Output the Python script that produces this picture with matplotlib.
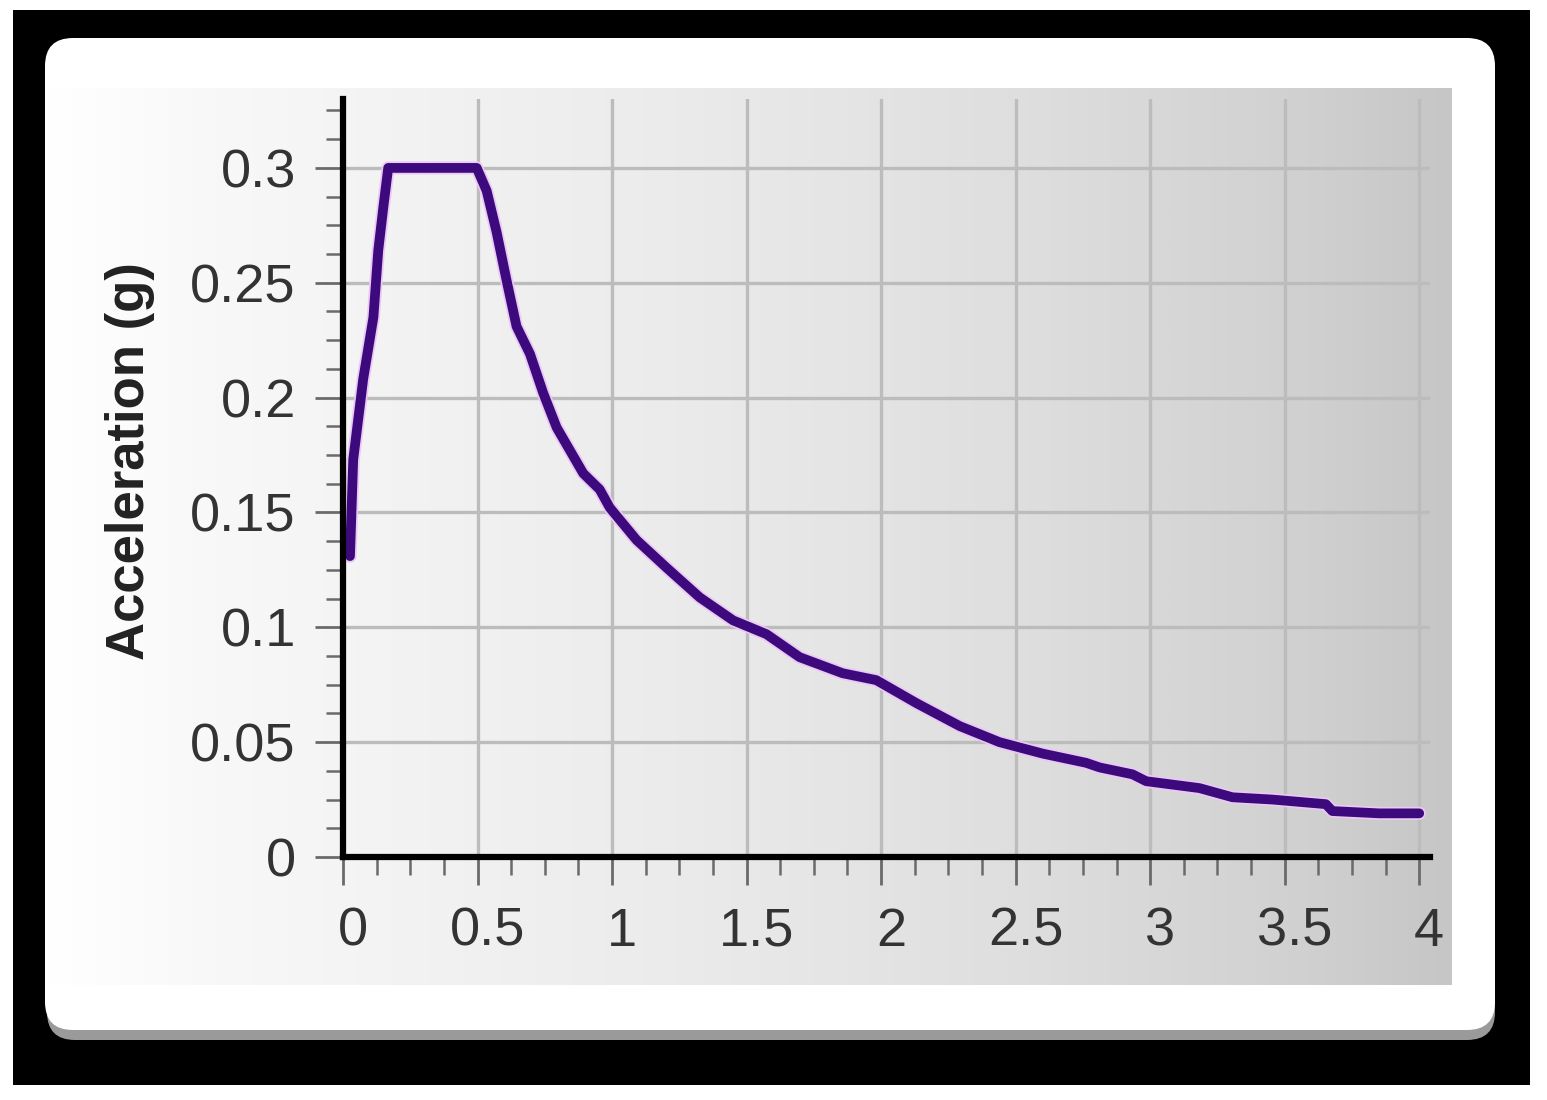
#!/usr/bin/env python3
"""Response spectrum chart: acceleration vs period, on a grey gradient card."""

import matplotlib
matplotlib.use("Agg")
import matplotlib.pyplot as plt
import numpy as np
from matplotlib.patches import Rectangle, FancyBboxPatch
from matplotlib.transforms import IdentityTransform, ScaledTranslation
from matplotlib.ticker import FixedLocator, MultipleLocator
from matplotlib.colors import LinearSegmentedColormap

# Spectrum values
period = [0.026, 0.038, 0.075, 0.113, 0.131, 0.150, 0.168, 0.497, 0.534,
          0.571, 0.608, 0.645, 0.695, 0.744, 0.794, 0.893, 0.954, 0.992,
          1.091, 1.202, 1.326, 1.450, 1.574, 1.697, 1.857, 1.982, 2.131,
          2.292, 2.440, 2.601, 2.762, 2.812, 2.934, 2.985, 3.183, 3.306,
          3.455, 3.653, 3.677, 3.851, 4.000]
accel = [0.131, 0.173, 0.208, 0.235, 0.264, 0.283, 0.300, 0.300, 0.290,
         0.272, 0.251, 0.231, 0.219, 0.202, 0.187, 0.167, 0.160, 0.152,
         0.138, 0.126, 0.113, 0.103, 0.097, 0.087, 0.080, 0.077, 0.067,
         0.057, 0.050, 0.045, 0.041, 0.039, 0.036, 0.033, 0.030, 0.026,
         0.025, 0.023, 0.020, 0.019, 0.019]

xticks = [0, 0.5, 1, 1.5, 2, 2.5, 3, 3.5, 4]
xtick_labels = ["0", "0.5", "1", "1.5", "2", "2.5", "3", "3.5", "4"]
yticks = [0, 0.05, 0.1, 0.15, 0.2, 0.25, 0.3]
ytick_labels = ["0", "0.05", "0.1", "0.15", "0.2", "0.25", "0.3"]
ylabel = "Acceleration (g)"

W, H = 1547, 1100
plt.rcParams["font.family"] = ["Liberation Sans", "DejaVu Sans"]

fig = plt.figure(figsize=(W / 100, H / 100), dpi=100, facecolor="white")


def box(x0, y0, x1, y1):
    """pixel box, top-left origin -> display coords (x, y, w, h)"""
    return x0, H - y1, x1 - x0, y1 - y0


# black frame
x, y, w, h = box(13, 10, 1530, 1085)
fig.patches.append(Rectangle((x, y), w, h, transform=IdentityTransform(),
                             facecolor="black", edgecolor="none", zorder=0))
# soft shadow under the card
x, y, w, h = box(47, 44, 1495, 1040)
fig.patches.append(FancyBboxPatch((x, y), w, h, boxstyle="round,pad=0,rounding_size=28",
                                  transform=IdentityTransform(),
                                  facecolor="#9a9a9a", edgecolor="none", zorder=0.5))
# white card
x, y, w, h = box(45, 38, 1495, 1030)
fig.patches.append(FancyBboxPatch((x, y), w, h, boxstyle="round,pad=0,rounding_size=28",
                                  transform=IdentityTransform(),
                                  facecolor="white", edgecolor="none", zorder=1))

# gradient panel behind the plot
px0, py0, px1, py1 = 45, 88, 1452, 985
bg = fig.add_axes([px0 / W, 1 - py1 / H, (px1 - px0) / W, (py1 - py0) / H])
bg.set_zorder(2)
grad_cmap = LinearSegmentedColormap.from_list(
    "panel", [(0.0, "#ffffff"), (0.12, "#f8f8f8"), (0.45, "#ebebeb"),
              (0.7, "#dedede"), (0.9, "#d0d0d0"), (1.0, "#c6c6c6")])
bg.imshow(np.linspace(0, 1, 512)[None, :], aspect="auto", cmap=grad_cmap,
          extent=[0, 1, 0, 1])
bg.set_axis_off()

# main axes
ax0, ax1, ay0, ay1 = 343, 1430, 99, 857
ax = fig.add_axes([ax0 / W, 1 - ay1 / H, (ax1 - ax0) / W, (ay1 - ay0) / H])
ax.set_zorder(3)
ax.set_facecolor("none")

ax.plot(period, accel, color="#ecc8f4", linewidth=9.5, solid_capstyle="round",
        zorder=3)
ax.plot(period, accel, color="#3d0a7d", linewidth=7, solid_capstyle="round",
        solid_joinstyle="round", zorder=4)

ax.set_xlim(0, 4.04)
ax.set_ylim(0, 0.33)

ax.xaxis.set_major_locator(FixedLocator(xticks))
ax.set_xticklabels(xtick_labels)
ax.yaxis.set_major_locator(FixedLocator(yticks))
ax.set_yticklabels(ytick_labels)
ax.xaxis.set_minor_locator(MultipleLocator(0.125))
ax.yaxis.set_minor_locator(MultipleLocator(0.0125))

ax.grid(True, which="major", color="#bcbcbc", linewidth=2.4, zorder=1)
ax.set_axisbelow(True)

for side in ("top", "right"):
    ax.spines[side].set_visible(False)
for side in ("left", "bottom"):
    ax.spines[side].set_color("black")
    ax.spines[side].set_linewidth(4.5)
    ax.spines[side].set_zorder(5)

ax.tick_params(axis="both", which="both", direction="out", color="#6a6a6a",
               labelcolor="#333333", labelsize=39)
ax.tick_params(axis="x", which="major", length=20, width=2, pad=16)
ax.tick_params(axis="x", which="minor", length=13, width=1.8)
ax.tick_params(axis="y", which="major", length=20, width=2, pad=14)
ax.tick_params(axis="y", which="minor", length=12, width=1.8)

# the x labels sit a little right of their ticks in the original
shift = ScaledTranslation(10 / 100, 0, fig.dpi_scale_trans)
for label in ax.get_xticklabels():
    label.set_transform(label.get_transform() + shift)

fig.text(130 / W, 1 - 461 / H, ylabel, rotation=90, ha="center", va="center",
         fontsize=38, fontweight="bold", color="#222222", zorder=5)

fig.savefig("out.png", dpi=100, facecolor="white")
